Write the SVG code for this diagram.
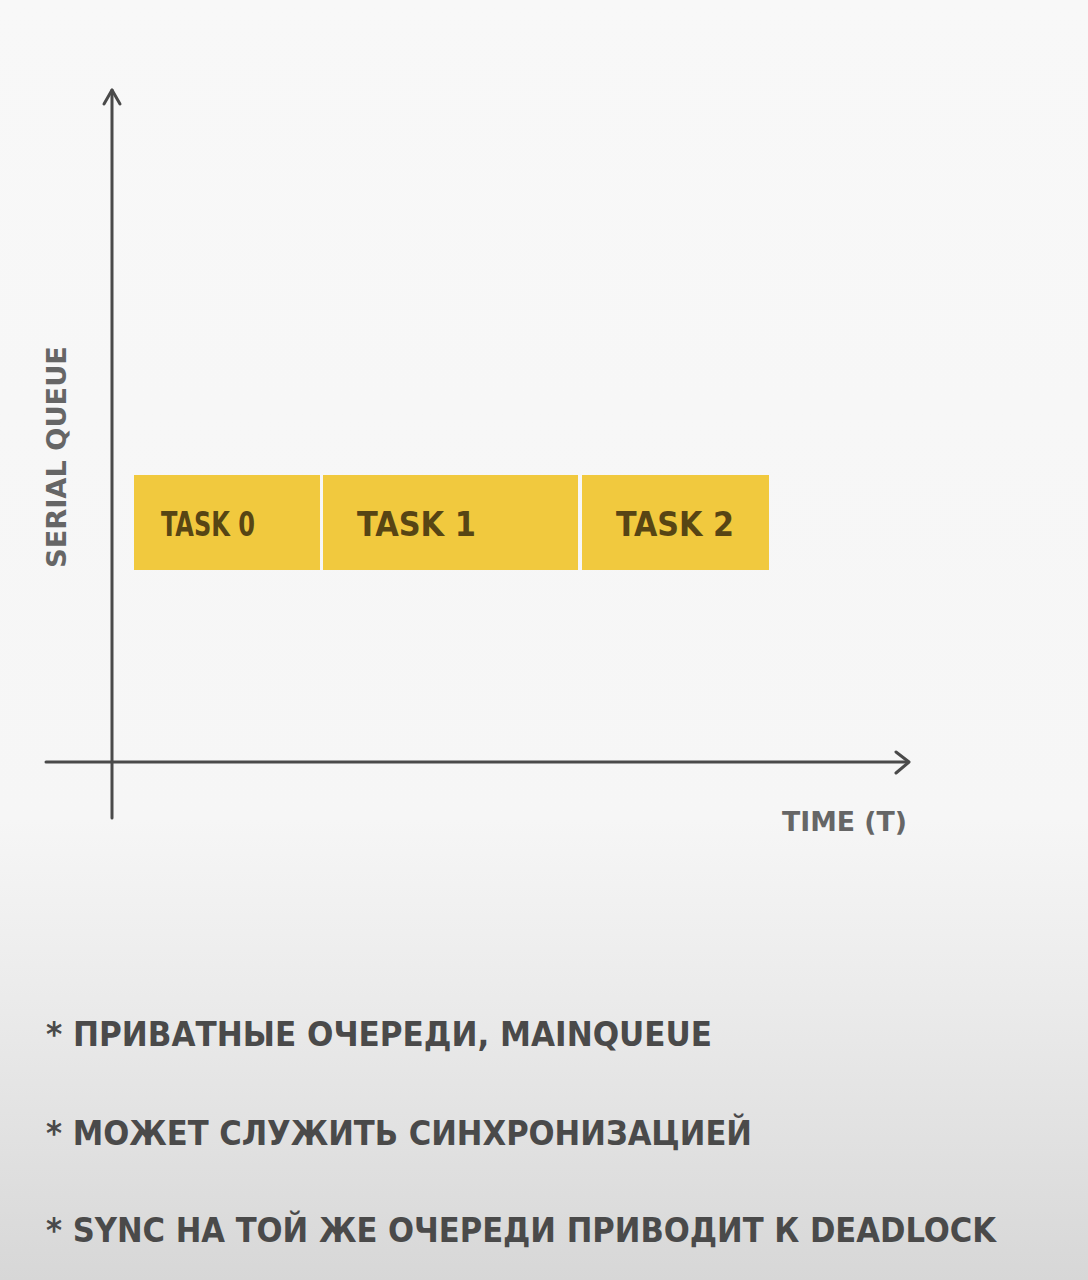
<svg xmlns="http://www.w3.org/2000/svg" width="1088" height="1280" viewBox="0 0 1088 1280">
  <defs>
    <linearGradient id="bg" x1="0" y1="0" x2="0" y2="1">
      <stop offset="0" stop-color="#f8f8f8"/>
      <stop offset="0.64" stop-color="#f6f6f6"/>
      <stop offset="0.78" stop-color="#ebebeb"/>
      <stop offset="1" stop-color="#d7d7d7"/>
    </linearGradient>
    <style>
      .axis { stroke: #4a4a4a; stroke-width: 3; fill: none; stroke-linecap: round; stroke-linejoin: round; }
      .task { fill: #f1c93e; }
      .tasklabel { font-family: "DejaVu Sans Condensed", "Liberation Sans", sans-serif; font-weight: bold; font-size: 33px; fill: #574514; }
      .axislabel { font-family: "DejaVu Sans Condensed", "Liberation Sans", sans-serif; font-weight: bold; font-size: 26px; fill: #666666; }
      .note { font-family: "DejaVu Sans Condensed", "Liberation Sans", sans-serif; font-weight: bold; font-size: 33px; fill: #4a4a4a; }
    </style>
  </defs>

  <rect width="1088" height="1280" fill="url(#bg)"/>

  <!-- axes -->
  <g id="connectors">
    <path class="axis" d="M112 818 V90"/>
    <path class="axis" d="M104 104 L112 90 L120 104"/>
    <path class="axis" d="M46 762 H908"/>
    <path class="axis" d="M896 752 L909 762 L896 773"/>
  </g>

  <g id="y-label">
    <text class="axislabel" transform="translate(66 568) rotate(-90)" textLength="222" lengthAdjust="spacingAndGlyphs">SERIAL QUEUE</text>
  </g>
  <g id="x-label">
    <text class="axislabel" x="782" y="831" textLength="125" lengthAdjust="spacingAndGlyphs">TIME (T)</text>
  </g>

  <!-- tasks on the serial queue -->
  <g id="task0">
    <rect class="task" x="134" y="475" width="186" height="95"/>
    <text class="tasklabel" x="161" y="536" textLength="94" lengthAdjust="spacingAndGlyphs">TASK 0</text>
  </g>
  <g id="task1">
    <rect class="task" x="323" y="475" width="255" height="95"/>
    <text class="tasklabel" x="357" y="536" textLength="119" lengthAdjust="spacingAndGlyphs">TASK 1</text>
  </g>
  <g id="task2">
    <rect class="task" x="582" y="475" width="187" height="95"/>
    <text class="tasklabel" x="616" y="536" textLength="118" lengthAdjust="spacingAndGlyphs">TASK 2</text>
  </g>

  <!-- notes -->
  <g id="notes">
    <text class="note" x="46" y="1046" textLength="666" lengthAdjust="spacingAndGlyphs">* ПРИВАТНЫЕ ОЧЕРЕДИ, MAINQUEUE</text>
    <text class="note" x="46" y="1145" textLength="706" lengthAdjust="spacingAndGlyphs">* МОЖЕТ СЛУЖИТЬ СИНХРОНИЗАЦИЕЙ</text>
    <text class="note" x="46" y="1242" textLength="950" lengthAdjust="spacingAndGlyphs">* SYNC НА ТОЙ ЖЕ ОЧЕРЕДИ ПРИВОДИТ К DEADLOCK</text>
  </g>
</svg>
